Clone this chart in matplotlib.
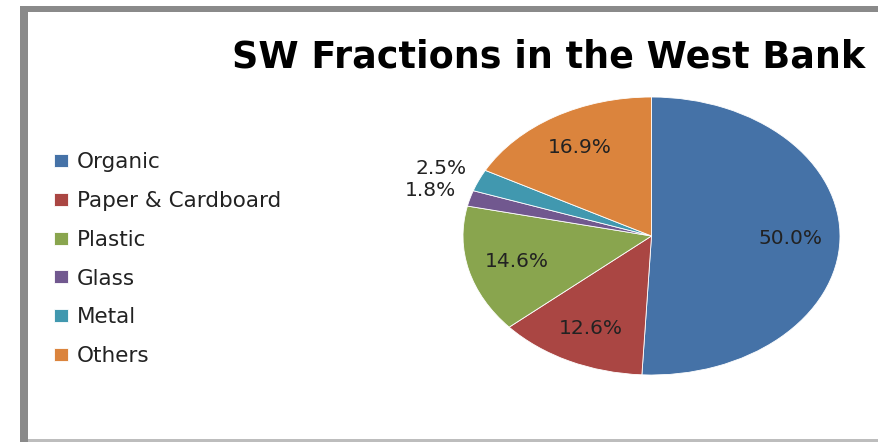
#!/usr/bin/env python3
"""
Pie chart of solid waste fractions in the West Bank.
"""

import numpy as np
import matplotlib
matplotlib.use('Agg')
import matplotlib.pyplot as plt
from matplotlib.patches import Rectangle

# Data
categories = ['Organic', 'Paper & Cardboard', 'Plastic', 'Glass', 'Metal', 'Others']
fractions = [50.0, 12.6, 14.6, 1.8, 2.5, 16.9]
colors = ['#4572A7', '#AA4643', '#89A54E', '#71588F', '#4198AF', '#DB843D']

W, H = 879, 442
fig = plt.figure(figsize=(W / 100, H / 100), dpi=100)
fig.patch.set_facecolor('white')

# Gray frame (left, top, bottom edges; right side is cut off)
fig.add_artist(Rectangle((20 / W, 0), 8 / W, 1 - 6 / H, transform=fig.transFigure,
                         color='#8a8a8a', lw=0))
fig.add_artist(Rectangle((20 / W, 1 - 12 / H), 1, 6 / H, transform=fig.transFigure,
                         color='#8a8a8a', lw=0))
fig.add_artist(Rectangle((28 / W, 0), 1, 3 / H, transform=fig.transFigure,
                         color='#bdbdbd', lw=0))

# Pie axes: elliptical pie, so aspect left free
ax = fig.add_axes([463 / W, (H - 375) / H, 377 / W, 278 / H])
wedges, _ = ax.pie(fractions, colors=colors, startangle=90, counterclock=False,
                   wedgeprops=dict(linewidth=0.6, edgecolor='white'))
ax.set_aspect('auto')
ax.set_xlim(-1, 1)
ax.set_ylim(-1, 1)
ax.axis('off')

# Percentage labels: inside for big slices, outside for the small ones
for w, val in zip(wedges, fractions):
    mid = np.deg2rad((w.theta1 + w.theta2) / 2)
    r = 1.22 if val < 5 else 0.74
    ax.text(r * np.cos(mid), r * np.sin(mid), f'{val:.1f}%', ha='center', va='center',
            fontsize=14.5, family='DejaVu Sans', color='#222222', clip_on=False)

fig.text(232 / W, 1 - 57 / H, 'SW Fractions in the West Bank', ha='left', va='center',
         fontsize=26.3, fontweight='bold', family='DejaVu Sans', color='black')

leg = fig.legend(wedges, categories, loc='upper left', bbox_to_anchor=(35 / W, 1 - 133 / H),
                 frameon=False, handlelength=0.65, handleheight=0.55,
                 handletextpad=0.4, labelspacing=0.87,
                 prop={'family': 'DejaVu Sans', 'size': 15.5})
for t in leg.get_texts():
    t.set_color('#222222')

plt.savefig('out.png', dpi=100)
plt.close()
